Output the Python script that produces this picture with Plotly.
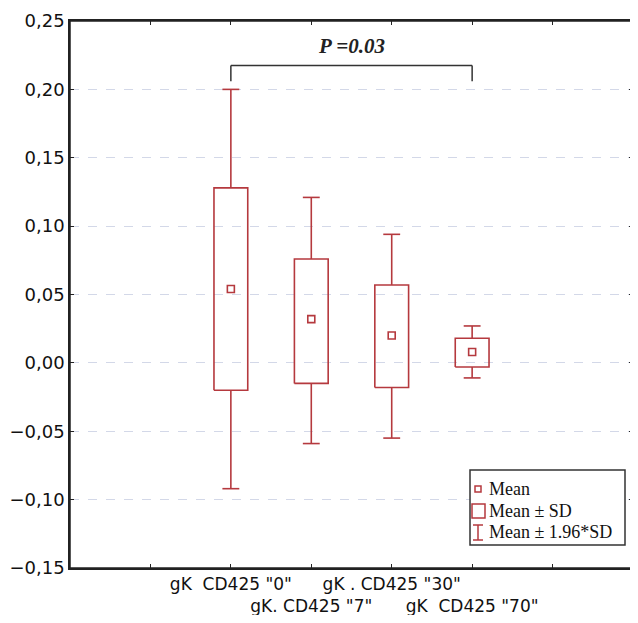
import plotly.graph_objects as go

# ---- data ----
categories = ['gK\u00a0\u00a0CD425 "0"', 'gK. CD425 "7"', 'gK . CD425 "30"', 'gK\u00a0\u00a0CD425 "70"']
cat_pos = [2, 3, 4, 5]
means = [0.054, 0.032, 0.020, 0.008]
sd_low = [-0.020, -0.015, -0.018, -0.003]
sd_high = [0.128, 0.076, 0.057, 0.018]
ci_low = [-0.092, -0.059, -0.055, -0.011]
ci_high = [0.200, 0.121, 0.094, 0.027]
y_ticks = [-0.15, -0.10, -0.05, 0.00, 0.05, 0.10, 0.15, 0.20, 0.25]
p_text = "P =0.03"
legend_labels = ["Mean", "Mean \u00b1 SD", "Mean \u00b1 1.96*SD"]

RED = "#b5393e"
BOX_HW = 0.21
CAP_HW = 0.105

fig = go.Figure()
for x, m, lo, hi, wl, wh in zip(cat_pos, means, sd_low, sd_high, ci_low, ci_high):
    fig.add_trace(go.Scatter(x=[x, x, None, x, x], y=[hi, wh, None, lo, wl], mode="lines",
                             line=dict(color=RED, width=1.6), hoverinfo="skip", showlegend=False))
    fig.add_trace(go.Scatter(x=[x - CAP_HW, x + CAP_HW, None, x - CAP_HW, x + CAP_HW],
                             y=[wh, wh, None, wl, wl], mode="lines",
                             line=dict(color=RED, width=1.6), hoverinfo="skip", showlegend=False))
    fig.add_trace(go.Scatter(x=[x - BOX_HW, x + BOX_HW, x + BOX_HW, x - BOX_HW, x - BOX_HW],
                             y=[lo, lo, hi, hi, lo], mode="lines",
                             line=dict(color=RED, width=1.6), hoverinfo="skip", showlegend=False))
fig.add_trace(go.Scatter(x=cat_pos, y=means, mode="markers",
                         marker=dict(symbol="square-open", size=7, color=RED, line=dict(width=1.6)),
                         showlegend=False))

# page is offset by the 8px body margin; work in page pixels and convert
OFF = 8
FW, FH = 630, 607
L, R, T, B = 70, 633, 21, 568          # plot area in page pixels
def px(x):
    return (x - L) / (R - L)
def py(y):
    return (B - y) / (B - T)

shapes = []
shapes.append(dict(type="rect", xref="paper", yref="paper", x0=0, x1=1, y0=0, y1=1,
                   line=dict(color="#222", width=1.5), layer="above"))
for (x0, x1, y0, y1) in [(2, 5, 0.2175, 0.2175), (2, 2, 0.2175, 0.206), (5, 5, 0.2175, 0.206)]:
    shapes.append(dict(type="line", xref="x", yref="y", x0=x0, x1=x1, y0=y0, y1=y1,
                       line=dict(color="#333", width=1.5)))

shapes.append(dict(type="rect", xref="paper", yref="paper", x0=px(470), x1=px(625), y0=py(545), y1=py(470),
                   line=dict(color="#333", width=1.5), fillcolor="white", layer="above"))
shapes.append(dict(type="rect", xref="paper", yref="paper", x0=px(475), x1=px(481), y0=py(492), y1=py(486),
                   line=dict(color=RED, width=1.5), layer="above"))
shapes.append(dict(type="rect", xref="paper", yref="paper", x0=px(472), x1=px(485), y0=py(518), y1=py(504),
                   line=dict(color=RED, width=1.5), layer="above"))
for (x0, x1, y0, y1) in [(478, 478, 540, 525), (473, 483, 540, 540), (473, 483, 525, 525)]:
    shapes.append(dict(type="line", xref="paper", yref="paper", x0=px(x0), x1=px(x1), y0=py(y0), y1=py(y1),
                       line=dict(color=RED, width=1.5), layer="above"))

annotations = [dict(x=3.5, y=0.2175, xref="x", yref="y", text="<b><i>" + p_text + "</i></b>",
                    showarrow=False, yanchor="bottom", yshift=5,
                    font=dict(family="Liberation Serif", size=21, color="#222"))]
for lab, yy in zip(legend_labels, [489, 511, 532]):
    annotations.append(dict(x=px(487), y=py(yy), xref="paper", yref="paper", text=lab,
                            showarrow=False, xanchor="left", yanchor="middle",
                            font=dict(family="Liberation Serif", size=18, color="#111")))

ticktext = [""] + [c if i % 2 == 0 else "<br>" + c for i, c in enumerate(categories)] + [""]

fig.update_layout(
    width=FW, height=FH,
    margin=dict(l=L - OFF, r=FW - (R - OFF), t=T - OFF, b=FH - (B - OFF)),
    plot_bgcolor="white", paper_bgcolor="white",
    separators=", ",
    shapes=shapes, annotations=annotations,
    showlegend=False,
)
fig.update_xaxes(range=[0, 7], tickvals=[1, 2, 3, 4, 5, 6], ticktext=ticktext, tickangle=0,
                 automargin=False,
                 showgrid=False, zeroline=False, showline=True, linecolor="#222", linewidth=1.5,
                 mirror="allticks", ticks="inside", ticklen=4, tickcolor="#222",
                 tickfont=dict(family="DejaVu Sans", size=17, color="#111"))
fig.update_yaxes(range=[-0.15, 0.25], tickvals=y_ticks, tickformat=".2f", automargin=False,
                 showgrid=True, gridcolor="#d3d8e8", griddash="dash", gridwidth=1,
                 zeroline=False, showline=True, linecolor="#222", linewidth=1.5,
                 mirror="allticks", ticks="inside", ticklen=4, tickcolor="#222",
                 tickfont=dict(family="DejaVu Sans", size=18, color="#111"))

fig.write_html("out.html")
